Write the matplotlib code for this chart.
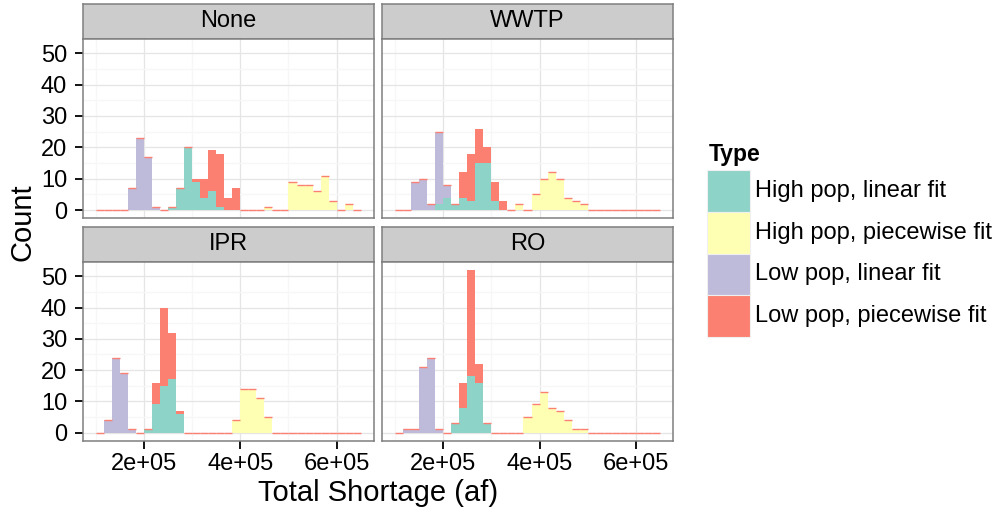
import numpy as np
import matplotlib
matplotlib.use("Agg")
import matplotlib.pyplot as plt
from matplotlib.patches import Rectangle

plt.rcParams['font.family'] = ['Liberation Sans', 'DejaVu Sans']

# ---- data: histogram bins (33 bins of width 50000/3 starting at 100000) ----
bin_start = 100000
bin_width = 50000 / 3
n_bins = 33

types = ["High pop, linear fit", "High pop, piecewise fit",
         "Low pop, linear fit", "Low pop, piecewise fit"]
colors = ["#8DD3C7", "#FFFFB3", "#BEBADA", "#FB8072"]
panels = ["None", "WWTP", "IPR", "RO"]

def counts(d):
    a = [0] * n_bins
    for k, v in d.items():
        a[k] = v
    return a

# None
none_hl = counts({9: 1, 10: 7, 11: 20, 12: 9, 13: 4, 14: 6, 15: 1})
none_hp = counts({21: 1, 24: 9, 25: 8, 26: 8, 27: 6, 28: 11, 29: 3, 31: 2})
none_ll = counts({4: 7, 5: 23, 6: 17, 7: 1})
none_lp = counts({12: 1, 13: 6, 14: 13, 15: 17, 16: 4, 17: 7})
# WWTP
wwtp_hl = counts({5: 2, 6: 4, 7: 2, 8: 4, 9: 3, 10: 15, 11: 15, 12: 3})
wwtp_hp = counts({15: 2, 17: 5, 18: 10, 19: 12, 20: 10, 21: 4, 22: 3, 23: 2})
wwtp_ll = counts({2: 9, 3: 10, 4: 2, 5: 23, 6: 4})
wwtp_lp = counts({8: 8, 9: 15, 10: 11, 11: 5, 12: 6, 13: 3})
# IPR
ipr_hl = counts({6: 1, 7: 9, 8: 15, 9: 17, 10: 6})
ipr_hp = counts({17: 4, 18: 14, 19: 14, 20: 11, 21: 5})
ipr_ll = counts({1: 4, 2: 24, 3: 19, 4: 1})
ipr_lp = counts({7: 7, 8: 25, 9: 15, 10: 1})
# RO
ro_hl = counts({7: 3, 8: 8, 9: 18, 10: 16, 11: 3})
ro_hp = counts({16: 5, 17: 9, 18: 13, 19: 8, 20: 7, 21: 4, 22: 1, 23: 1})
ro_ll = counts({1: 1, 2: 1, 3: 21, 4: 24, 5: 1})
ro_lp = counts({8: 8, 9: 34, 10: 6})

data = {
    "None": [none_hl, none_hp, none_ll, none_lp],
    "WWTP": [wwtp_hl, wwtp_hp, wwtp_ll, wwtp_lp],
    "IPR": [ipr_hl, ipr_hp, ipr_ll, ipr_lp],
    "RO": [ro_hl, ro_hp, ro_ll, ro_lp],
}

x_ticks = [200000, 400000, 600000]
x_minor = [100000, 300000, 500000]
x_tick_labels = ["2e+05", "4e+05", "6e+05"]
y_ticks = [0, 10, 20, 30, 40, 50]
y_minor = [5, 15, 25, 35, 45]

# ---- layout ----
W, H = 996, 515
fig = plt.figure(figsize=(W / 100, H / 100), dpi=100)

def rect(x0, y0, x1, y1):
    return [x0 / W, 1 - y1 / H, (x1 - x0) / W, (y1 - y0) / H]

cols = [(82.5, 374.0), (381.7, 673.3)]
rows = [((4.0, 38.7), (38.7, 218.3)), ((226.7, 262.0), (262.0, 440.7))]
border = "#7F7F7F"
small = 17

edges = bin_start + bin_width * np.arange(n_bins + 1)
lefts = edges[:-1]
xmin, xmax = edges[0], edges[-1]
xpad = 0.05 * (xmax - xmin)
ymax_data = max(sum(v[i] for v in vals) for vals in data.values() for i in range(n_bins))
ypad = 0.05 * ymax_data

for idx, name in enumerate(panels):
    r, c = divmod(idx, 2)
    (sx0, sx1) = cols[c]
    (st, sb), (pt, pb) = rows[r]
    # strip
    sax = fig.add_axes(rect(sx0, st, sx1, sb))
    sax.set_facecolor("#CCCCCC")
    sax.set_xticks([]); sax.set_yticks([])
    for sp in sax.spines.values():
        sp.set_color(border); sp.set_linewidth(1.1)
    sax.text(0.5, 0.5, name, ha="center", va="center", fontsize=small,
             transform=sax.transAxes)
    # panel
    ax = fig.add_axes(rect(sx0, pt, sx1, pb))
    ax.set_xlim(xmin - xpad, xmax + xpad)
    ax.set_ylim(-ypad, ymax_data + ypad)
    ax.set_xticks(x_ticks)
    ax.set_xticks(x_minor, minor=True)
    ax.set_yticks(y_ticks)
    ax.set_yticks(y_minor, minor=True)
    ax.grid(True, which="major", color="#E5E5E5", linewidth=0.9)
    ax.grid(True, which="minor", color="#F7F7F7", linewidth=0.9)
    ax.set_axisbelow(True)
    for sp in ax.spines.values():
        sp.set_color(border); sp.set_linewidth(1.1)
    ax.tick_params(which="minor", length=0)
    ax.tick_params(which="major", length=6, width=1.3, color="black",
                   labelsize=small)
    ax.tick_params(axis="y", pad=5)
    ax.tick_params(axis="x", pad=3)
    if c == 0:
        ax.set_yticklabels([str(v) for v in y_ticks])
    else:
        ax.tick_params(axis="y", which="major", length=0, labelleft=False)
    if r == 1:
        ax.set_xticklabels(x_tick_labels)
    else:
        ax.tick_params(axis="x", which="major", length=0, labelbottom=False)

    bottom = np.zeros(n_bins)
    for vals, col in zip(data[name], colors):
        v = np.array(vals, dtype=float)
        ax.bar(lefts, v, width=bin_width, bottom=bottom, align="edge",
               color=col, linewidth=0, zorder=2)
        bottom = bottom + v
    # zero-count top-layer bars render as thin lines in the original
    red = np.array(data[name][3])
    zero = red == 0
    ax.hlines(bottom[zero], lefts[zero], lefts[zero] + bin_width,
              color=colors[3], linewidth=1.0, zorder=3)

# axis titles
fig.text(378 / W, 1 - 493 / H, "Total Shortage (af)", ha="center", va="center",
         fontsize=21)
fig.text(22 / W, 1 - 222.5 / H, "Count", ha="center", va="center",
         rotation=90, fontsize=21)

# legend
lax = fig.add_axes([0, 0, 1, 1])
lax.set_xlim(0, W); lax.set_ylim(H, 0)
lax.axis("off")
lax.text(709, 155, "Type", fontsize=16.5, fontweight="bold", ha="left", va="center")
key_top = 170.0
key_h = 41.75
for i, (t, col) in enumerate(zip(types, colors)):
    y0 = key_top + i * key_h
    lax.add_patch(Rectangle((707.3, y0), 43, key_h, facecolor=col,
                            edgecolor="#F0F0F0", linewidth=0.8))
    lax.text(755, y0 + key_h / 2, t, fontsize=small, ha="left", va="center")

fig.savefig("out.png", dpi=100)
